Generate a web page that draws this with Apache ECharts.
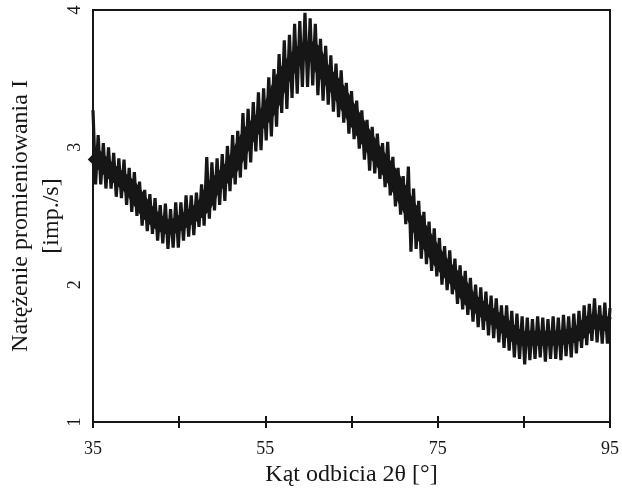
<!DOCTYPE html>
<html>
<head>
<meta charset="utf-8">
<title>Natężenie promieniowania</title>
<script src="https://cdn.jsdelivr.net/npm/echarts@6/dist/echarts.min.js"></script>
<style>
    html, body {
        margin: 0;
        padding: 0;
        background: #fff;
    }

    #myChart {
        width: 622px;
        height: 492px;
    }
</style>
</head>
<body>
<div id="myChart"></div>
<script>
    // kąt 2θ: od 35° co 0.3°
    var angleStart = 35;
    var angleStep = 0.3;

    // natężenie (kolejne punkty, na przemian szczyt / dolina)
    var intensity35_50 = [
        3.27, 2.73, 3.09, 2.73, 3.03, 2.70, 3.00, 2.70, 2.96, 2.64,
        2.92, 2.63, 2.91, 2.58, 2.85, 2.53, 2.82, 2.50, 2.75, 2.43,
        2.69, 2.39, 2.66, 2.37, 2.63, 2.32, 2.58, 2.30, 2.59, 2.26,
        2.55, 2.27, 2.60, 2.27, 2.60, 2.32, 2.65, 2.35, 2.65, 2.36,
        2.67, 2.42, 2.73, 2.43, 2.93, 2.48, 2.89, 2.54, 2.92, 2.58
    ];
    var intensity50_65 = [
        2.95, 2.61, 3.01, 2.68, 3.09, 2.73, 3.12, 2.78, 3.25, 2.84,
        3.28, 2.89, 3.33, 2.97, 3.40, 2.98, 3.43, 3.05, 3.51, 3.08,
        3.57, 3.15, 3.68, 3.25, 3.78, 3.28, 3.82, 3.36, 3.90, 3.39,
        3.92, 3.44, 3.98, 3.44, 3.94, 3.45, 3.90, 3.38, 3.79, 3.34,
        3.74, 3.31, 3.67, 3.26, 3.61, 3.22, 3.56, 3.18, 3.47, 3.10
    ];
    var intensity65_80 = [
        3.41, 3.06, 3.34, 2.99, 3.27, 2.91, 3.20, 2.83, 3.15, 2.81,
        3.10, 2.77, 3.03, 2.71, 3.04, 2.65, 2.93, 2.57, 2.85, 2.51,
        2.79, 2.44, 2.86, 2.24, 2.70, 2.26, 2.61, 2.19, 2.53, 2.15,
        2.46, 2.10, 2.41, 2.06, 2.34, 2.00, 2.28, 1.96, 2.25, 1.93,
        2.19, 1.86, 2.14, 1.82, 2.10, 1.78, 2.05, 1.73, 2.00, 1.69
    ];
    var intensity80_95 = [
        1.98, 1.67, 1.95, 1.63, 1.92, 1.61, 1.90, 1.58, 1.85, 1.54,
        1.85, 1.52, 1.81, 1.47, 1.79, 1.46, 1.77, 1.42, 1.76, 1.45,
        1.75, 1.46, 1.77, 1.47, 1.76, 1.44, 1.75, 1.46, 1.77, 1.46,
        1.76, 1.45, 1.78, 1.48, 1.77, 1.47, 1.79, 1.50, 1.81, 1.54,
        1.85, 1.56, 1.86, 1.59, 1.90, 1.58, 1.85, 1.57, 1.87, 1.57,
        1.83
    ];

    // środek pasma szumu (odczytany)
    var trendAngle = [35, 37, 39.3, 41.6, 43.9, 45.9, 47.8, 48.9, 50.9, 53.2, 55.5, 57, 59, 60.2,
        61.7, 63.3, 64.8, 67.5, 69.5, 71.8, 73, 75.3, 77.6, 78.8, 82.2, 84.9, 88, 91.2, 93, 95];
    var trendValue = [2.95, 2.83, 2.71, 2.51, 2.42, 2.48, 2.57, 2.70, 2.84, 3.10, 3.28, 3.50, 3.68, 3.72,
        3.56, 3.43, 3.27, 2.99, 2.81, 2.55, 2.40, 2.17, 2.00, 1.89, 1.73, 1.61, 1.61, 1.64, 1.73, 1.71];

    var xTickLabels = [35, 55, 75, 95];
    var yTickLabels = [1, 2, 3, 4];

    var fontName = '"Liberation Serif", "DejaVu Serif", serif';
    var ink = '#161616';

    var intensity = intensity35_50.concat(intensity50_65, intensity65_80, intensity80_95);
    var points = [];
    for (var i = 0; i < intensity.length; i++) {
        points.push([angleStart + i * angleStep, intensity[i]]);
    }
    var trend = [];
    for (var j = 0; j < trendAngle.length; j++) {
        trend.push([trendAngle[j], trendValue[j]]);
    }

    var myChart = echarts.init(document.getElementById('myChart'));
    var option = {
        animation: false,
        backgroundColor: '#fff',
        grid: {
            left: 93,
            right: 12,
            top: 10,
            bottom: 70,
            outerBoundsMode: 'none',
            containLabel: false,
            show: true,
            borderColor: ink,
            borderWidth: 2
        },
        xAxis: [
            {
                type: 'value',
                min: 35,
                max: 95,
                interval: 10,
                position: 'bottom',
                name: 'Kąt odbicia 2θ [°]',
                nameLocation: 'middle',
                nameGap: 38,
                nameTextStyle: {
                    fontFamily: fontName,
                    fontSize: 24,
                    color: ink
                },
                axisLine: {
                    show: true,
                    lineStyle: { color: ink, width: 2 }
                },
                axisTick: {
                    show: true,
                    length: 6,
                    lineStyle: { color: ink, width: 2 }
                },
                axisLabel: {
                    margin: 18,
                    fontFamily: fontName,
                    fontSize: 18,
                    color: ink,
                    formatter: function (v) {
                        return xTickLabels.indexOf(v) >= 0 ? String(v) : '';
                    }
                },
                splitLine: { show: false }
            },
            {
                // ticks going inside the frame
                type: 'value',
                min: 35,
                max: 95,
                interval: 10,
                position: 'bottom',
                axisLine: { show: false },
                axisTick: {
                    show: true,
                    inside: true,
                    length: 6,
                    lineStyle: { color: ink, width: 2 }
                },
                axisLabel: { show: false },
                splitLine: { show: false }
            }
        ],
        yAxis: {
            type: 'value',
            min: 1,
            max: 4,
            interval: 1,
            name: 'Natężenie promieniowania I\n[imp./s]',
            nameLocation: 'middle',
            nameRotate: 90,
            nameGap: 26,
            nameMoveOverlap: false,
            nameTextStyle: {
                fontFamily: fontName,
                fontSize: 24,
                lineHeight: 31,
                color: ink,
                align: 'center'
            },
            axisLine: {
                show: true,
                lineStyle: { color: ink, width: 2 }
            },
            axisTick: { show: false },
            axisLabel: {
                rotate: 90,
                margin: 9,
                fontFamily: fontName,
                fontSize: 18,
                color: ink,
                formatter: function (v) {
                    return yTickLabels.indexOf(v) >= 0 ? String(v) : '';
                }
            },
            splitLine: { show: false }
        },
        series: [
            {
                type: 'line',
                data: trend,
                showSymbol: false,
                silent: true,
                smooth: 0.3,
                z: 1,
                lineStyle: {
                    color: ink,
                    width: 15,
                    cap: 'butt',
                    join: 'round'
                }
            },
            {
                type: 'line',
                data: points,
                showSymbol: false,
                silent: true,
                z: 2,
                lineStyle: {
                    color: ink,
                    width: 3.2,
                    join: 'bevel'
                }
            }
        ]
    };
    myChart.setOption(option);
</script>
</body>
</html>
